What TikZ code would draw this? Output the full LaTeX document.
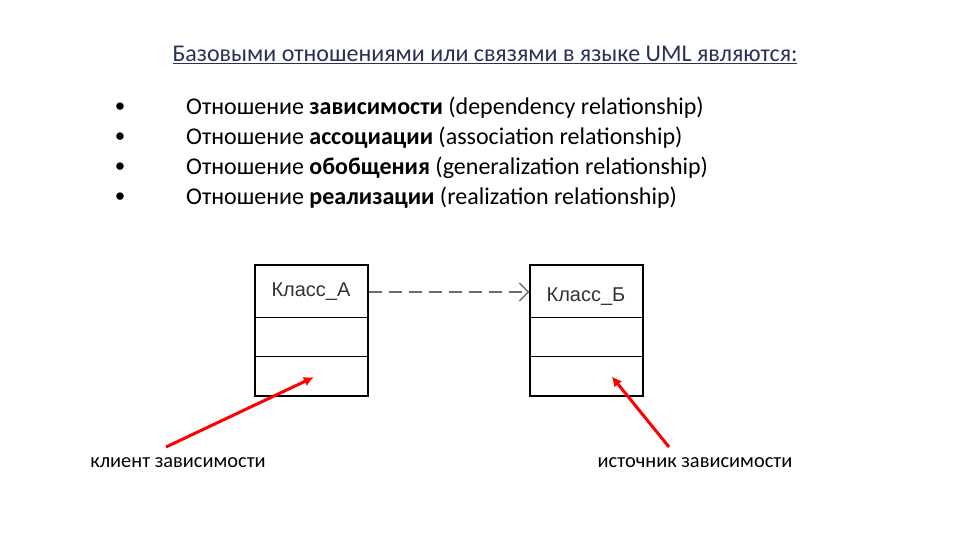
\documentclass[tikz,border=0pt]{standalone}
\usepackage{fontspec}
\setmainfont{Carlito}
\newfontfamily\boxfont{Liberation Sans}
\usepackage{tikz}
\usetikzlibrary{arrows.meta,positioning,calc}
\definecolor{titleblue}{RGB}{38,50,86}
\definecolor{linegray}{RGB}{110,110,110}

\begin{document}
\begin{tikzpicture}[x=1pt,y=-1pt,
	class box/.style={draw, line width=1.5pt, minimum width=113pt, minimum height=131pt, inner sep=0pt},
	class name/.style={font=\boxfont\fontsize{20}{20}\selectfont, text=black!80},
	dep line/.style={draw=linegray, line width=1.3pt, dash pattern=on 13pt off 7pt, -{Straight Barb[length=9pt,width=18pt,line width=1.3pt]}},
	red arrow/.style={draw=red, line width=3pt, -{Latex[length=10pt,width=10pt]}, shorten >=-2pt},
	item text/.style={anchor=west, font=\fontsize{24}{24}\selectfont, inner sep=0pt},
	note text/.style={font=\fontsize{20.4}{20.4}\selectfont, inner sep=0pt}]
	\useasboundingbox[fill=white] (0,0) rectangle (960,540);
	
	% title
	\node[font=\fontsize{24}{24}\selectfont, text=titleblue, inner sep=0pt] (title) at (485,55) {\underline{Базовыми отношениями или связями в языке UML являются:}};
	
	% list
	\foreach \y/\bold/\eng [count=\i] in {108/зависимости/dependency, 138/ассоциации/association, 168/обобщения/generalization, 198/реализации/realization} {
		\node[inner sep=0pt, font=\fontsize{21}{21}\selectfont] (b\i) at (120,\y) {•};
		\node[item text] (t\i) at (186,\y) {Отношение \textbf{\bold} (\eng\ relationship)};
	}
	
	% classes
	\node[class box] (A) at (311.5,330.5) {};
	\node[class box] (B) at (586.5,330.5) {};
	\node[class name] (Aname) at (311,292) {Класс\_А};
	\node[class name] (Bname) at (586,297) {Класс\_Б};
	\foreach \c in {A,B} {
		\draw[line width=1.5pt] ($(\c.north west)+(0,53)$) -- ($(\c.north east)+(0,53)$);
		\draw[line width=1.5pt] ($(\c.north west)+(0,92)$) -- ($(\c.north east)+(0,92)$);
	}
	\draw[dep line] (A.east |- Aname) -- (B.west |- Aname);
	
	% labels
	\node[note text] (client) at (178,463) {клиент зависимости};
	\node[note text] (source) at (695,463) {источник зависимости};
	\coordinate (clientstart) at (166,447);
	\coordinate (clienttip) at (312,378);
	\coordinate (sourcestart) at (669,447);
	\coordinate (sourcetip) at (613,378);
	\draw[red arrow] (clientstart) -- (clienttip);
	\draw[red arrow] (sourcestart) -- (sourcetip);
\end{tikzpicture}
\end{document}
